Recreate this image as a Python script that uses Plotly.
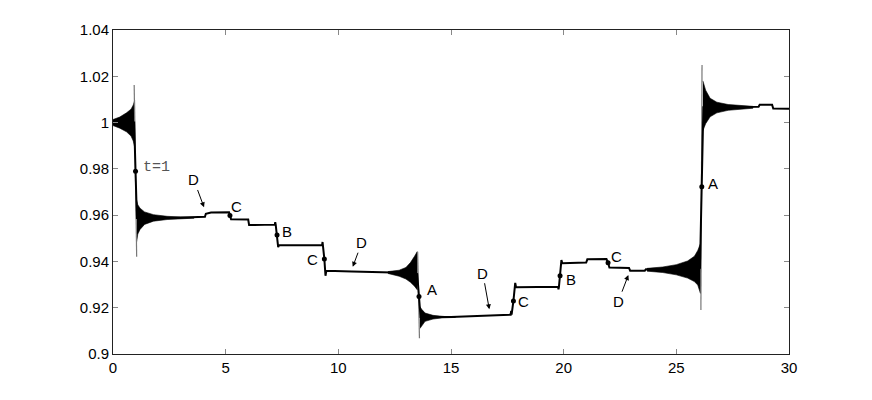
import plotly.graph_objects as go

# ---------------- data ----------------
# centre (slow) response, step-like path
center_x = [0.00, 0.94, 1.00, 1.06, 2.50, 3.50, 4.08, 4.12, 4.35, 5.15, 5.19, 5.24, 6.00, 6.04,
            7.18, 7.20, 7.22, 7.28, 7.33, 7.37, 9.28, 9.30, 9.32, 9.38, 9.43, 9.47, 10.60,
            12.20, 13.30, 13.50, 13.58, 13.65, 15.00, 16.70, 17.65, 17.67, 17.69, 17.77, 17.85,
            17.89, 18.80, 18.85, 19.75, 19.77, 19.79, 19.84, 19.90, 19.94, 21.00, 21.05, 21.90,
            21.97, 22.03, 22.90, 22.95, 23.60, 23.65, 24.40, 25.50, 26.05, 26.13, 26.20, 28.65,
            28.70, 29.25, 29.30, 30.00]
center_y = [1.0000, 1.0000, 0.9790, 0.9588, 0.9588, 0.9591, 0.9593, 0.9606, 0.9611, 0.9612, 0.9598,
            0.9582, 0.9581, 0.9557, 0.9559, 0.9570, 0.9559, 0.9514, 0.9462, 0.9471, 0.9470, 0.9484,
            0.9470, 0.9410, 0.9338, 0.9360, 0.9357, 0.9352, 0.9350, 0.9345, 0.9248, 0.9160, 0.9160,
            0.9166, 0.9170, 0.9186, 0.9170, 0.9229, 0.9307, 0.9288, 0.9287, 0.9290, 0.9290, 0.9280,
            0.9290, 0.9338, 0.9406, 0.9392, 0.9395, 0.9409, 0.9410, 0.9394, 0.9374, 0.9372, 0.9360,
            0.9360, 0.9366, 0.9364, 0.9365, 0.9372, 0.9723, 1.0066, 1.0068, 1.0077, 1.0077, 1.0061,
            1.0060]

# fast oscillation envelopes (upper / lower)
burst1_x = [0.00, 0.30, 0.60, 0.80, 0.90, 0.96]
burst1_hi = [1.0013, 1.0024, 1.0042, 1.0058, 1.0076, 1.0095]
burst1_lo = [0.9987, 0.9976, 0.9960, 0.9942, 0.9920, 0.9895]

burst2_x = [1.05, 1.10, 1.20, 1.40, 1.80, 2.40, 3.00, 3.60]
burst2_hi = [0.9665, 0.9645, 0.9630, 0.9614, 0.9602, 0.9595, 0.9592, 0.9591]
burst2_lo = [0.9485, 0.9518, 0.9538, 0.9560, 0.9574, 0.9581, 0.9585, 0.9587]

burst3_x = [12.20, 12.70, 13.00, 13.20, 13.38, 13.50]
burst3_hi = [0.9356, 0.9362, 0.9374, 0.9395, 0.9422, 0.9442]
burst3_lo = [0.9348, 0.9336, 0.9324, 0.9310, 0.9293, 0.9278]

burst4_x = [13.62, 13.70, 13.85, 14.20, 14.60, 15.20]
burst4_hi = [0.9205, 0.9193, 0.9177, 0.9167, 0.9163, 0.9161]
burst4_lo = [0.9110, 0.9123, 0.9141, 0.9151, 0.9156, 0.9158]

burst5_x = [23.70, 24.40, 25.00, 25.50, 25.80, 25.95, 26.07]
burst5_hi = [0.9370, 0.9376, 0.9386, 0.9402, 0.9422, 0.9447, 0.9477]
burst5_lo = [0.9358, 0.9352, 0.9342, 0.9328, 0.9313, 0.9298, 0.9262]

burst6_x = [26.18, 26.30, 26.50, 26.80, 27.30, 27.80, 28.40]
burst6_hi = [1.0180, 1.0140, 1.0105, 1.0088, 1.0078, 1.0073, 1.0070]
burst6_lo = [0.9965, 0.9995, 1.0025, 1.0042, 1.0053, 1.0058, 1.0062]

# thin transient spikes at the three large jumps
spike_x = [[0.94, 1.05], [13.52, 13.60], [26.09, 26.14]]
spike_y = [[1.0162, 0.9420], [0.9442, 0.9068], [0.9190, 1.0249]]

# marked events
event_x = [1.00, 5.19, 7.28, 9.38, 13.58, 17.77, 19.84, 21.97, 26.13]
event_y = [0.9790, 0.9598, 0.9514, 0.9410, 0.9248, 0.9229, 0.9338, 0.9394, 0.9723]
event_lbl = ["t=1", "C", "B", "C", "A", "C", "B", "C", "A"]
event_lbl_x = [1.24, 5.50, 7.74, 8.86, 14.14, 18.21, 20.33, 22.35, 26.64]
event_lbl_y = [0.9807, 0.9636, 0.9531, 0.9410, 0.9277, 0.9225, 0.9324, 0.9420, 0.9738]

# arrowed "D" labels: label position -> arrow tip
d_lbl_x = [3.59, 11.04, 16.41, 22.42]
d_lbl_y = [0.9752, 0.9481, 0.9349, 0.9226]
d_tip_x = [4.04, 10.64, 16.70, 22.87]
d_tip_y = [0.9634, 0.9377, 0.9193, 0.9341]

x_ticks = [0, 5, 10, 15, 20, 25, 30]
y_ticks = [0.90, 0.92, 0.94, 0.96, 0.98, 1.00, 1.02, 1.04]
y_ticktext = ["0.9", "0.92", "0.94", "0.96", "0.98", "1", "1.02", "1.04"]

# ---------------- figure ----------------
fig = go.Figure()

for bx, bh, bl in [(burst1_x, burst1_hi, burst1_lo), (burst2_x, burst2_hi, burst2_lo),
                   (burst3_x, burst3_hi, burst3_lo), (burst4_x, burst4_hi, burst4_lo),
                   (burst5_x, burst5_hi, burst5_lo), (burst6_x, burst6_hi, burst6_lo)]:
    fig.add_trace(go.Scatter(x=bx + bx[::-1], y=bh + bl[::-1], mode="lines",
                             fill="toself", fillcolor="black",
                             line=dict(color="black", width=0.6),
                             hoverinfo="skip", showlegend=False))

for sx, sy in zip(spike_x, spike_y):
    fig.add_trace(go.Scatter(x=sx, y=sy, mode="lines",
                             line=dict(color="#777777", width=1.2),
                             hoverinfo="skip", showlegend=False))

fig.add_trace(go.Scatter(x=center_x, y=center_y, mode="lines",
                         line=dict(color="black", width=2),
                         hoverinfo="skip", showlegend=False))

fig.add_trace(go.Scatter(x=event_x, y=event_y, mode="markers",
                         marker=dict(color="black", size=5),
                         hoverinfo="skip", showlegend=False))

annotations = []
for lbl, lx, ly in zip(event_lbl, event_lbl_x, event_lbl_y):
    if lbl == "t=1":
        annotations.append(dict(x=lx, y=ly, xref="x", yref="y", text=lbl, showarrow=False,
                                xanchor="left", yanchor="middle",
                                font=dict(family="Liberation Mono", size=15, color="#555555")))
    else:
        annotations.append(dict(x=lx, y=ly, xref="x", yref="y", text=lbl, showarrow=False,
                                xanchor="center", yanchor="middle",
                                font=dict(family="Liberation Sans", size=15, color="black")))

for lx, ly, tx, ty in zip(d_lbl_x, d_lbl_y, d_tip_x, d_tip_y):
    annotations.append(dict(x=tx, y=ty, xref="x", yref="y", ax=lx, ay=ly,
                            axref="x", ayref="y", text="D", showarrow=True,
                            arrowhead=2, arrowsize=1, arrowwidth=1, arrowcolor="black",
                            standoff=0,
                            font=dict(family="Liberation Sans", size=15, color="black")))

# the page body has an 8px margin, so the margins are reduced to keep the
# plot area at x 113..789, y 30..354 of the window
fig.update_layout(
    width=872, height=400, autosize=False,
    margin=dict(l=105, r=91, t=22, b=54),
    paper_bgcolor="white", plot_bgcolor="white",
    annotations=annotations,
    font=dict(family="Liberation Sans", size=15, color="black"),
)
fig.update_xaxes(range=[0, 30], tickvals=x_ticks, ticktext=[str(v) for v in x_ticks],
                 showgrid=False, zeroline=False, showline=True, mirror="ticks",
                 linecolor="#222222", linewidth=1, ticks="inside", ticklen=5,
                 tickcolor="#888888", tickfont=dict(family="Liberation Sans", size=15))
fig.update_yaxes(range=[0.9, 1.04], tickvals=y_ticks, ticktext=y_ticktext,
                 showgrid=False, zeroline=False, showline=True, mirror="ticks",
                 linecolor="#222222", linewidth=1, ticks="inside", ticklen=5,
                 tickcolor="#888888", tickfont=dict(family="Liberation Sans", size=15))

fig.write_html("out.html")
